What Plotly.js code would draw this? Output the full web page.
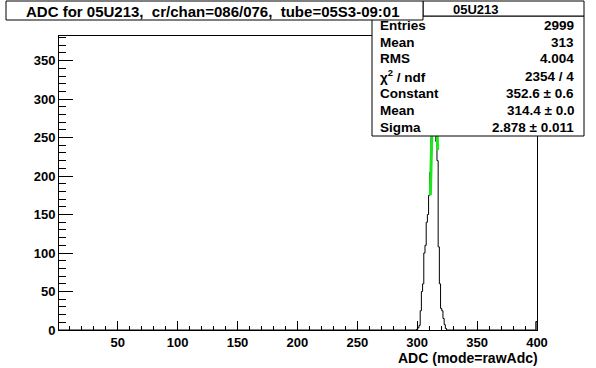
<!DOCTYPE html>
<html>
<head>
<meta charset="utf-8">
<script src="https://cdn.plot.ly/plotly-3.0.1.min.js"></script>
<style>html,body{margin:0;padding:0;background:#fff;}#plot{width:596px;height:368px;}</style>
</head>
<body>
<div id="plot"></div>
<script>
// ---- data ----
const binCenters = [300,301,302,303,304,305,306,307,308,309,310,311,312,313,314,315,316,317,318,319,320,321,322,323,324,399.5];
const binCounts  = [1,3,6,25,50,60,100,110,140,150,175,205,250,320,364,330,245,220,108,60,28,25,15,7,2,11];
const fitX = [311.0,311.5,312.0,312.5,313.0,313.5,314.0,314.5,315.0,315.5,316.0,316.5,317.0];
const fitY = [175,212,249,284,314,337,349,353,347,333,308,275,234];
const xTickVals = [50,100,150,200,250,300,350,400];
const yTickVals = [0,50,100,150,200,250,300,350];
const titleText = "ADC for 05U213,  cr/chan=086/076,  tube=05S3-09:01";
const statsName = "05U213";
const statLabels = ["Entries","Mean","RMS","\u03c7<sup>2</sup> / ndf","Constant","Mean","Sigma"];
const statValues = ["2999","313","4.004","2354 / 4","352.6 \u00b1 0.6","314.4 \u00b1 0.0","2.878 \u00b1 0.011"];
const xTitle = "ADC (mode=rawAdc)";

// ---- histogram outline (step line) ----
const xRange = [1, 400];
const hx = [xRange[0]], hy = [0];
for (let i = 0; i < binCenters.length; i++) {
  const lo = binCenters[i] - 0.5;
  if (i > 0 && binCenters[i] - binCenters[i-1] > 1) { hx.push(binCenters[i-1] + 0.5); hy.push(0); }
  hx.push(lo); hy.push(binCounts[i]);
}
hx.push(Math.min(binCenters[binCenters.length-1] + 0.5, xRange[1])); hy.push(0);
hx.push(xRange[1]); hy.push(0);

const W = 596, H = 368;
const M = {l: 59, r: 59, t: 36, b: 38};
const pw = W - M.l - M.r, ph = H - M.t - M.b;
const px = v => (v - M.l) / pw;
const py = v => 1 - (v - M.t) / ph;

const FONT = "Liberation Sans, Arial, sans-serif";

const traces = [
  {x: hx, y: hy, type: 'scatter', mode: 'lines', line: {shape: 'hv', color: '#000', width: 1}, hoverinfo: 'skip'},
  {x: fitX, y: fitY, type: 'scatter', mode: 'lines', line: {color: '#1ee61e', width: 3}, hoverinfo: 'skip'}
];

const shapes = [
  {type: 'rect', xref: 'paper', yref: 'paper', x0: px(372), x1: px(584), y0: py(136), y1: py(16), fillcolor: '#fff', line: {color: '#000', width: 1}, layer: 'above'},
  {type: 'rect', xref: 'paper', yref: 'paper', x0: px(423), x1: px(584), y0: py(16), y1: py(1), fillcolor: '#fff', line: {color: '#000', width: 1}, layer: 'above'},
  {type: 'rect', xref: 'paper', yref: 'paper', x0: px(6), x1: px(423), y0: py(20), y1: py(1), fillcolor: '#fff', line: {color: '#000', width: 1}, layer: 'above'}
];

const ann = [];
const A = (x, y, text, anchor, size) => ({xref: 'paper', yref: 'paper', x: px(x), y: py(y), text: text, showarrow: false, xanchor: anchor, yanchor: 'middle', borderpad: 0, font: {family: FONT, size: size, color: '#000', weight: 'bold'}});
ann.push(A(213, 11, titleText, 'center', 15));
ann.push(A(476, 9, statsName, 'center', 13));
for (let i = 0; i < statLabels.length; i++) {
  ann.push(A(379, 25 + 17 * i, statLabels[i], 'left', 13.5));
  ann.push(A(575, 25 + 17 * i, statValues[i], 'right', 13.5));
}
ann.push(A(539, 358, xTitle, 'right', 14));

const layout = {
  width: W, height: H,
  margin: M,
  paper_bgcolor: '#fff', plot_bgcolor: '#fff',
  showlegend: false,
  font: {family: FONT, size: 13, color: '#000'},
  xaxis: {
    range: xRange, autorange: false, showgrid: false, zeroline: false,
    showline: true, linecolor: '#000', linewidth: 1, mirror: true,
    tickmode: 'array', tickvals: xTickVals, ticktext: xTickVals.map(String),
    ticks: 'inside', ticklen: 9, tickwidth: 1, tickcolor: '#000',
    minor: {tickmode: 'linear', tick0: 0, dtick: 10, ticks: 'inside', ticklen: 4.5, tickwidth: 1, tickcolor: '#000', showgrid: false},
    tickfont: {family: FONT, size: 13, color: '#000', weight: 'bold'},
    automargin: false, fixedrange: true
  },
  yaxis: {
    range: [0, 382], autorange: false, showgrid: false, zeroline: false,
    showline: true, linecolor: '#000', linewidth: 1, mirror: true,
    tickmode: 'array', tickvals: yTickVals, ticktext: yTickVals.map(String),
    ticks: 'inside', ticklen: 14, tickwidth: 1, tickcolor: '#000',
    minor: {tickmode: 'linear', tick0: 0, dtick: 10, ticks: 'inside', ticklen: 7, tickwidth: 1, tickcolor: '#000', showgrid: false},
    tickfont: {family: FONT, size: 13, color: '#000', weight: 'bold'},
    automargin: false, fixedrange: true
  },
  shapes: shapes,
  annotations: ann
};

Plotly.newPlot('plot', traces, layout, {staticPlot: true, displayModeBar: false});
</script>
</body>
</html>
